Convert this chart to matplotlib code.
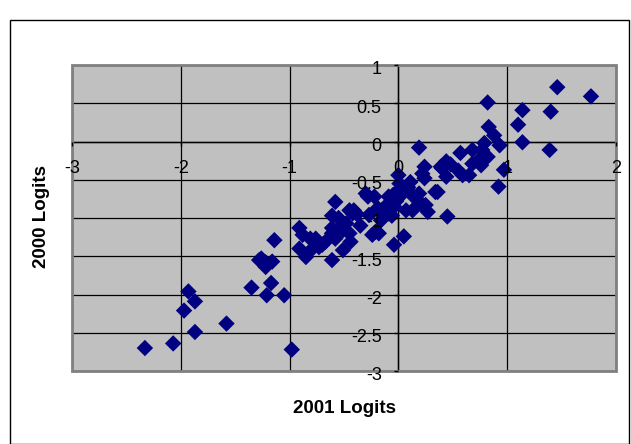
import matplotlib
matplotlib.use("Agg")
import matplotlib.pyplot as plt
from matplotlib.patches import Rectangle
from matplotlib.ticker import FormatStrFormatter
from matplotlib.transforms import ScaledTranslation

plt.rcParams['font.family'] = ['Liberation Sans', 'DejaVu Sans']
plt.rcParams['axes.unicode_minus'] = False

# logit estimates (2001 on x, 2000 on y)
logits_2001 = [
    -2.33, -2.07, -1.93, -1.87, -1.97, -1.87, -1.58, -1.35, -1.17, -1.21, -1.05, -0.98,
    -1.14, -1.26, -1.22, -1.16, -1.28, -1.22,
    -0.91, -0.91, -0.85, -0.81, -0.88, -0.79, -0.73, -0.76, -0.70, -0.67,
    -0.61, -0.58, -0.61, -0.61, -0.58, -0.61, -0.51, -0.51, -0.51, -0.48, -0.45, -0.44,
    -0.45, -0.41, -0.42, -0.55,
    -0.30, -0.28, -0.22, -0.27, -0.21, -0.24, -0.16, -0.12, -0.19, -0.13, -0.09, -0.06,
    -0.09, -0.18, -0.35, -0.38,
    0.19, 0.24, 0.24, 0.22, 0.01, 0.11, 0.04, -0.05, -0.04, 0.13, 0.19, 0.21, 0.27, 0.07,
    0.05, -0.04, 0.00, 0.02, 0.14, 0.25, 0.34, 0.09, -0.02,
    0.44, 0.39, 0.44, 0.45, 0.36, 0.40, 0.48,
    0.57, 0.59, 0.65, 0.68, 0.68, 0.74, 0.76, 0.77, 0.79, 0.82, 0.82, 0.83, 0.88, 0.93,
    0.97, 0.92, 0.55,
    1.14, 1.10, 1.14, 1.46, 1.77, 1.40, 1.39,
]
logits_2000 = [
    -2.70, -2.64, -1.96, -2.09, -2.21, -2.49, -2.38, -1.91, -1.85, -2.01, -2.01, -2.72,
    -1.29, -1.53, -1.64, -1.57, -1.55, -1.58,
    -1.13, -1.40, -1.51, -1.27, -1.22, -1.40, -1.38, -1.27, -1.35, -1.31,
    -0.97, -0.79, -1.13, -1.20, -1.27, -1.55, -1.42, -1.09, -1.16, -1.07, -1.20, -1.31,
    -0.90, -0.90, -0.94, -1.00,
    -0.68, -0.72, -0.72, -0.96, -1.18, -1.22, -1.03, -0.85, -0.87, -0.90, -0.94, -0.97,
    -0.72, -1.20, -1.10, -0.95,
    -0.08, -0.33, -0.48, -0.42, -0.55, -0.53, -0.68, -0.70, -0.85, -0.90, -0.68, -0.81,
    -0.92, -0.90, -1.24, -1.35, -0.44, -0.61, -0.72, -0.83, -0.66, -0.60, -0.78,
    -0.26, -0.33, -0.46, -0.98, -0.66, -0.35, -0.30,
    -0.15, -0.44, -0.44, -0.11, -0.29, -0.24, -0.31, -0.11, -0.02, -0.20, 0.51, 0.19,
    0.08, -0.05, -0.37, -0.59, -0.38,
    0.41, 0.22, -0.01, 0.71, 0.59, 0.39, -0.11,
]

x_ticks = [-3, -2, -1, 0, 1, 2]
y_ticks = [-3, -2.5, -2, -1.5, -1, -0.5, 0, 0.5, 1]

W, H = 631, 444
fig = plt.figure(figsize=(W / 100, H / 100), dpi=100)
fig.patch.set_facecolor('white')

# outer chart frame
fig.add_artist(Rectangle((10 / W, 0.5 / H), 619 / W, (H - 21) / H,
                         transform=fig.transFigure, fill=False,
                         edgecolor='black', linewidth=1))

L, R, T, B = 72, 616, 65, 371
ax = fig.add_axes([L / W, 1 - B / H, (R - L) / W, (B - T) / H])
ax.set_facecolor('#C0C0C0')
ax.set_xlim(-3, 2)
ax.set_ylim(-3, 1)

ax.set_xticks(x_ticks)
ax.set_yticks(y_ticks)
ax.xaxis.set_major_formatter(FormatStrFormatter('%g'))
ax.yaxis.set_major_formatter(FormatStrFormatter('%g'))

# gridlines under the markers, tick labels on top of them
for xv in x_ticks:
    ax.axvline(xv, color='black', linewidth=0.9, zorder=1)
for yv in y_ticks:
    ax.axhline(yv, color='black', linewidth=0.9, zorder=1)
ax.xaxis.set_zorder(6)
ax.yaxis.set_zorder(6)

# axes cross at the origin, like the Excel chart
ax.spines['left'].set_position(('data', 0))
ax.spines['bottom'].set_position(('data', 0))
for s in ['left', 'bottom']:
    ax.spines[s].set_color('black')
    ax.spines[s].set_linewidth(1)
    ax.spines[s].set_zorder(1.5)
for s in ['top', 'right']:
    ax.spines[s].set_visible(False)

# plot area border
ax.add_patch(Rectangle((0, 0), 1, 1, transform=ax.transAxes, fill=False,
                       edgecolor='#808080', linewidth=2, zorder=5, clip_on=False))

ax.tick_params(axis='x', direction='out', length=3, width=1, pad=10, labelsize=13)
ax.tick_params(axis='y', direction='out', length=3, width=1, pad=9, labelsize=13)
shift = ScaledTranslation(0, -2 / 72, fig.dpi_scale_trans)
for lab in ax.get_yticklabels():
    lab.set_transform(lab.get_transform() + shift)

ax.scatter(logits_2001, logits_2000, marker='D', s=70, color='#000080',
           edgecolors='none', zorder=4)

fig.text(((L + R) / 2) / W, 1 - 408 / H, '2001 Logits', ha='center', va='center',
         fontsize=13.5, fontweight='bold')
fig.text(42 / W, 1 - 217 / H, '2000 Logits', ha='center', va='center',
         rotation=90, fontsize=13.5, fontweight='bold')

fig.savefig('out.png', dpi=100)
